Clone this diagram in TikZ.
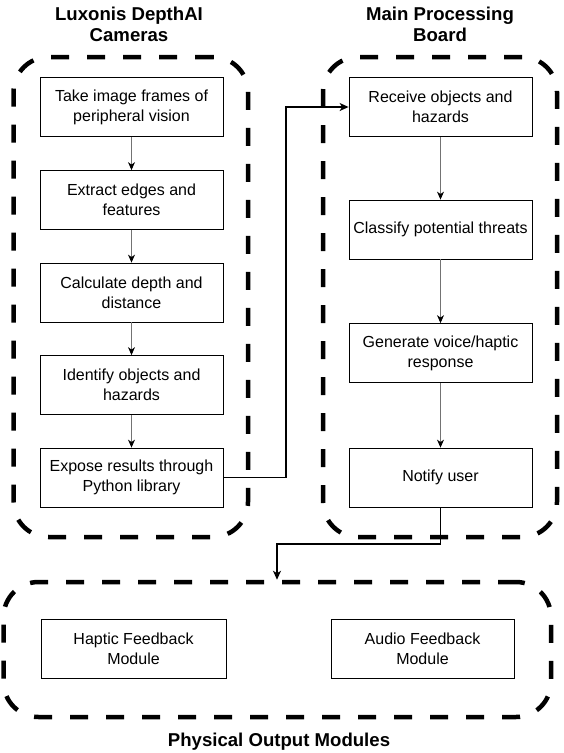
\documentclass[tikz,border=0pt]{standalone}
\usepackage{fontspec}
\setmainfont{Liberation Sans}
\usetikzlibrary{arrows.meta}
\begin{document}
\begin{tikzpicture}[x=1pt,y=-1pt,
  box/.style={draw=black, line width=0.8pt, fill=white, minimum width=183pt, minimum height=59pt,
    align=center, inner sep=2pt, font=\fontsize{16}{20}\selectfont},
  group/.style={draw=black, line width=4.5pt, dash pattern=on 18pt off 18pt, rounded corners=35pt,
    inner sep=0pt},
  title/.style={align=center, font=\bfseries\fontsize{18.6}{21}\selectfont},
  flow/.style={draw=black!55, line width=0.9pt, -{Stealth[length=8pt,width=7pt,inset=2.5pt,color=black]}},
  link/.style={draw=black, line width=1.3pt, -{Stealth[length=9pt,width=8pt,inset=2.5pt]}}]
\useasboundingbox (0,0) rectangle (563,753);

% containers
\node[group, minimum width=234.5pt, minimum height=480pt] (lc) at (130.75,297) {};
\node[group, minimum width=234pt, minimum height=480pt] (rc) at (440,297) {};
\node[group, minimum width=547.5pt, minimum height=135pt] (bc) at (277.25,649.5) {};

% titles
\node[title] (lt) at (129,24) {Luxonis DepthAI\\Cameras};
\node[title] (rt) at (440,24) {Main Processing\\Board};
\node[title] (bt) at (279,742) {Physical Output Modules};

% left column
\node[box] (l1) at (131.5,107) {Take image frames of\\peripheral vision};
\node[box] (l2) at (131.5,200) {Extract edges and\\features};
\node[box] (l3) at (131.5,292.5) {Calculate depth and\\distance};
\node[box] (l4) at (131.5,385) {Identify objects and\\hazards};
\node[box] (l5) at (131.5,477.5) {Expose results through\\Python library};

% right column
\node[box] (r1) at (440.5,107) {Receive objects and\\hazards};
\node[box] (r2) at (440.5,229.5) {Classify potential threats};
\node[box] (r3) at (440.5,353) {Generate voice/haptic\\response};
\node[box] (r4) at (440.5,477.5) {Notify user};

% bottom modules
\node[box, minimum width=185pt] (hm) at (133.5,649) {Haptic Feedback\\Module};
\node[box] (am) at (422.5,649) {Audio Feedback\\Module};

% internal flows
\draw[flow] (l1.south) -- (l2.north);
\draw[flow] (l2.south) -- (l3.north);
\draw[flow] (l3.south) -- (l4.north);
\draw[flow] (l4.south) -- (l5.north);
\draw[flow] (r1.south) -- (r2.north);
\draw[flow] (r2.south) -- (r3.north);
\draw[flow] (r3.south) -- (r4.north);

% cross links
\coordinate (j1) at (286,300);
\draw[link] (l5.east) -| (j1) |- (r1.west);
\coordinate (k1) at (277,544);
\draw[link] (r4.south) |- (k1) -- (k1 |- bc.north);
\end{tikzpicture}
\end{document}
